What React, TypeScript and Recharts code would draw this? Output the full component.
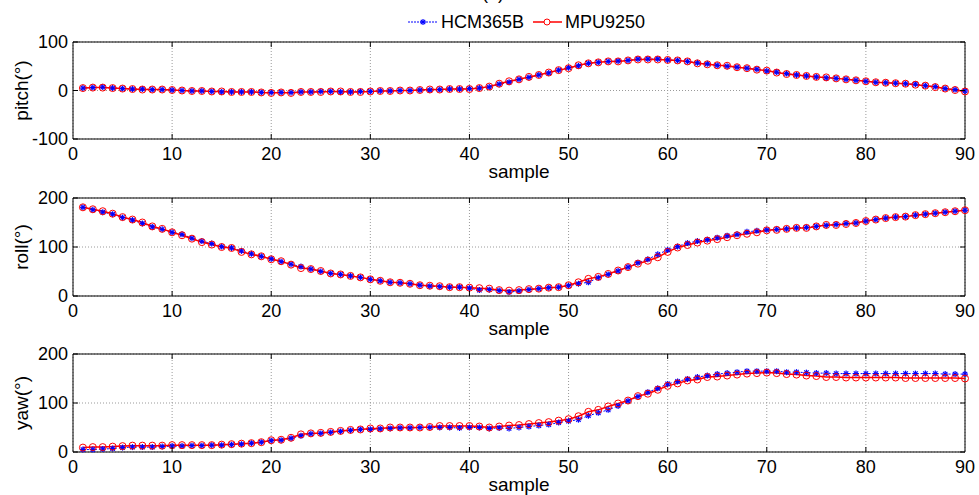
import React from 'react';
import { LineChart, Line, XAxis, YAxis, CartesianGrid, ReferenceArea, Legend } from 'recharts';

const FONT = '"Liberation Sans", Arial, Helvetica, sans-serif';
const WIDTH = 979;
const PLOT_LEFT = 73;
const PLOT_RIGHT = 965;
const PLOT_W = PLOT_RIGHT - PLOT_LEFT;
const AXIS_H = 52;
const LEGEND_H = 24;

const xTicks = [0, 10, 20, 30, 40, 50, 60, 70, 80, 90];
const sampleIndex = Array.from({ length: 90 }, (_, i) => i + 1);

// pitch (deg)
const pitchHcm = [
  5, 6, 7, 5, 4, 3, 3, 2, 2, 1,
  0, -1, -1, -2, -3, -3, -3, -3, -4, -4,
  -4, -4, -3, -3, -2, -2, -3, -3, -2, -2,
  -1, -1, 0, 0, 1, 1, 2, 3, 3, 4,
  5, 7, 13, 17, 23, 27, 32, 36, 42, 47,
  51, 56, 58, 60, 61, 62, 65, 65, 65, 63,
  62, 60, 57, 55, 52, 50, 48, 46, 44, 40,
  38, 35, 32, 30, 28, 26, 25, 23, 21, 19,
  17, 16, 15, 14, 13, 10, 8, 4, 2, -1,
];
const pitchMpu = [
  5, 6, 6, 5, 4, 3, 2, 2, 2, 1,
  0, -1, -1, -2, -2, -3, -3, -3, -4, -5,
  -4, -5, -3, -3, -3, -2, -2, -3, -3, -2,
  -1, -1, 0, 0, 1, 2, 2, 3, 3, 3,
  5, 8, 14, 19, 23, 28, 32, 37, 42, 46,
  52, 56, 58, 60, 60, 62, 64, 64, 64, 63,
  62, 60, 56, 54, 52, 51, 48, 46, 43, 41,
  37, 34, 32, 30, 28, 27, 25, 23, 21, 19,
  17, 16, 15, 14, 12, 10, 7, 4, 1, -2,
];

// roll (deg)
const rollHcm = [
  181, 176, 171, 167, 160, 155, 148, 141, 136, 130,
  126, 118, 112, 107, 101, 98, 92, 86, 81, 76,
  70, 65, 60, 55, 50, 46, 44, 41, 38, 34,
  31, 28, 27, 25, 22, 20, 19, 18, 18, 16,
  12, 13, 11, 8, 10, 13, 15, 17, 18, 21,
  25, 28, 37, 44, 51, 59, 68, 75, 85, 94,
  101, 108, 112, 115, 119, 123, 126, 131, 133, 135,
  136, 137, 139, 140, 142, 144, 146, 148, 149, 153,
  156, 159, 161, 162, 165, 167, 169, 171, 173, 175,
];
const rollMpu = [
  181, 177, 173, 168, 161, 156, 150, 142, 137, 130,
  124, 117, 110, 105, 100, 98, 90, 85, 81, 75,
  71, 64, 57, 55, 51, 46, 44, 41, 38, 34,
  31, 28, 27, 25, 22, 21, 20, 18, 18, 17,
  16, 15, 12, 11, 12, 14, 15, 17, 18, 22,
  28, 35, 39, 45, 52, 59, 66, 72, 79, 90,
  99, 104, 109, 113, 116, 120, 124, 127, 130, 134,
  135, 137, 139, 139, 142, 145, 145, 147, 149, 153,
  156, 159, 161, 162, 165, 167, 169, 171, 173, 175,
];

// yaw (deg)
const yawHcm = [
  5, 5, 6, 7, 9, 10, 10, 10, 11, 12,
  12, 13, 13, 14, 14, 15, 16, 18, 20, 23,
  24, 28, 33, 37, 38, 40, 42, 44, 46, 46,
  47, 48, 49, 49, 50, 50, 50, 50, 49, 50,
  50, 48, 49, 48, 50, 52, 54, 56, 60, 63,
  66, 74, 80, 86, 94, 104, 113, 122, 130, 139,
  144, 149, 153, 156, 159, 161, 163, 165, 165, 165,
  165, 163, 163, 162, 161, 161, 160, 160, 160, 160,
  160, 160, 160, 160, 160, 160, 160, 159, 159, 159,
];
const yawMpu = [
  9, 10, 10, 11, 12, 13, 13, 13, 13, 14,
  14, 14, 14, 14, 15, 16, 17, 18, 20, 24,
  25, 29, 36, 38, 39, 41, 43, 45, 46, 48,
  48, 50, 50, 50, 50, 51, 53, 53, 53, 53,
  52, 50, 52, 54, 55, 57, 59, 61, 64, 67,
  73, 82, 86, 93, 99, 105, 114, 119, 127, 135,
  140, 146, 148, 153, 154, 156, 158, 160, 161, 162,
  161, 159, 158, 156, 155, 153, 153, 152, 152, 152,
  152, 152, 152, 151, 151, 151, 151, 151, 151, 150,
];

const BLUE = '#0000ff';
const RED = '#ff0000';

const toRows = (hcm: number[], mpu: number[]) =>
  sampleIndex.map((s, i) => ({ sample: s, hcm: hcm[i], mpu: mpu[i] }));

const Star = ({ cx, cy }: { cx: number; cy: number }) => (
  <g stroke={BLUE} strokeWidth={1.2}>
    <line x1={cx - 3} x2={cx + 3} y1={cy} y2={cy} />
    <line x1={cx} x2={cx} y1={cy - 3} y2={cy + 3} />
    <line x1={cx - 2.2} x2={cx + 2.2} y1={cy - 2.2} y2={cy + 2.2} />
    <line x1={cx - 2.2} x2={cx + 2.2} y1={cy + 2.2} y2={cy - 2.2} />
  </g>
);

const LegendBox = () => (
  <div style={{ display: 'flex', alignItems: 'center', height: LEGEND_H, fontFamily: FONT, fontSize: 18, color: '#000' }}>
    <svg width={30} height={12} style={{ marginRight: 3 }}>
      <line x1={0} x2={30} y1={6} y2={6} stroke={BLUE} strokeDasharray="2 1" />
      <Star cx={15} cy={6} />
    </svg>
    <span>HCM365B</span>
    <svg width={29} height={12} style={{ marginLeft: 9, marginRight: 3 }}>
      <line x1={0} x2={29} y1={6} y2={6} stroke={RED} strokeWidth={1.5} />
      <circle cx={14} cy={6} r={3} stroke={RED} fill="#fff" />
    </svg>
    <span>MPU9250</span>
  </div>
);

type PanelProps = {
  top: number;
  marginTop: number;
  plotH: number;
  hcm: number[];
  mpu: number[];
  yDomain: [number, number];
  yTicks: number[];
  yLabel: string;
  legend?: boolean;
};

const Panel = ({ top, marginTop, plotH, hcm, mpu, yDomain, yTicks, yLabel, legend }: PanelProps) => {
  const data = toRows(hcm, mpu);
  // the legend's own height is added to the top offset by the chart
  const extra = legend ? LEGEND_H : 0;

  const XTick = (props: any) => {
    const { x, y, payload } = props;
    const edge = payload.value === 0 || payload.value === 90;
    return (
      <g>
        {!edge && <line x1={x} x2={x} y1={y} y2={y - 5} stroke="#000" />}
        {!edge && <line x1={x} x2={x} y1={y - plotH} y2={y - plotH + 5} stroke="#000" />}
        <text x={x} y={y + 21} textAnchor="middle" fontSize={18} fontFamily={FONT} fill="#000">
          {payload.value}
        </text>
      </g>
    );
  };

  const YTick = (props: any) => {
    const { x, y, payload } = props;
    return (
      <g>
        <line x1={x} x2={x + 5} y1={y} y2={y} stroke="#000" />
        <line x1={x + PLOT_W - 5} x2={x + PLOT_W} y1={y} y2={y} stroke="#000" />
        <text x={x - 5} y={y} dy="0.35em" textAnchor="end" fontSize={18} fontFamily={FONT} fill="#000">
          {payload.value}
        </text>
      </g>
    );
  };

  return (
    <div style={{ position: 'absolute', top, left: 0 }}>
      <LineChart
        width={WIDTH}
        height={marginTop + extra + plotH + AXIS_H}
        data={data}
        margin={{ top: marginTop, right: WIDTH - PLOT_RIGHT, bottom: 0, left: 0 }}
      >
        <CartesianGrid stroke="#9a9a9a" strokeDasharray="1 2" />
        <XAxis
          type="number"
          dataKey="sample"
          domain={[0, 90]}
          ticks={xTicks}
          height={AXIS_H}
          tickSize={0}
          tickMargin={0}
          axisLine={false}
          tick={<XTick />}
          interval={0}
          label={{ value: 'sample', position: 'insideBottom', offset: 13, fontSize: 19, fontFamily: FONT, fill: '#000' }}
        />
        <YAxis
          type="number"
          domain={yDomain}
          ticks={yTicks}
          width={PLOT_LEFT}
          tickSize={0}
          tickMargin={0}
          axisLine={false}
          tick={<YTick />}
          interval={0}
          label={{
            value: yLabel,
            angle: -90,
            position: 'insideLeft',
            offset: 21,
            fontSize: 19,
            fontFamily: FONT,
            fill: '#000',
            style: { textAnchor: 'middle' },
          }}
        />
        <ReferenceArea x1={0} x2={90} y1={yDomain[0]} y2={yDomain[1]} stroke="#000" strokeWidth={1} fill="none" fillOpacity={0} />
        {legend && (
          <Legend
            verticalAlign="top"
            content={<LegendBox />}
            wrapperStyle={{ position: 'absolute', top: 10, left: 408, width: 280, height: LEGEND_H }}
          />
        )}
        <Line
          dataKey="hcm"
          name="HCM365B"
          stroke={BLUE}
          strokeWidth={1}
          strokeDasharray="2 2"
          dot={(p: any) => <Star key={`s-${p.index}`} cx={p.cx} cy={p.cy} />}
          activeDot={false}
          isAnimationActive={false}
        />
        <Line
          dataKey="mpu"
          name="MPU9250"
          stroke={RED}
          strokeWidth={1.5}
          dot={{ r: 3.5, stroke: RED, strokeWidth: 1, fill: 'none' }}
          activeDot={false}
          isAnimationActive={false}
        />
      </LineChart>
    </div>
  );
}

export default function App() {
  return (
    <div style={{ position: 'absolute', top: 0, left: 0, width: WIDTH, height: 495, overflow: 'hidden', background: '#fff' }}>
      <div
        style={{
          position: 'absolute',
          top: -17,
          left: 482,
          fontFamily: FONT,
          fontSize: 18,
          color: '#000',
        }}
      >
        (a)
      </div>
      <Panel top={0} marginTop={18} plotH={97} hcm={pitchHcm} mpu={pitchMpu} yDomain={[-100, 100]} yTicks={[-100, 0, 100]} yLabel="pitch(°)" legend />
      <Panel top={188} marginTop={10} plotH={98} hcm={rollHcm} mpu={rollMpu} yDomain={[0, 200]} yTicks={[0, 100, 200]} yLabel="roll(°)" />
      <Panel top={344} marginTop={10} plotH={98} hcm={yawHcm} mpu={yawMpu} yDomain={[0, 200]} yTicks={[0, 100, 200]} yLabel="yaw(°)" />
    </div>
  );
}
